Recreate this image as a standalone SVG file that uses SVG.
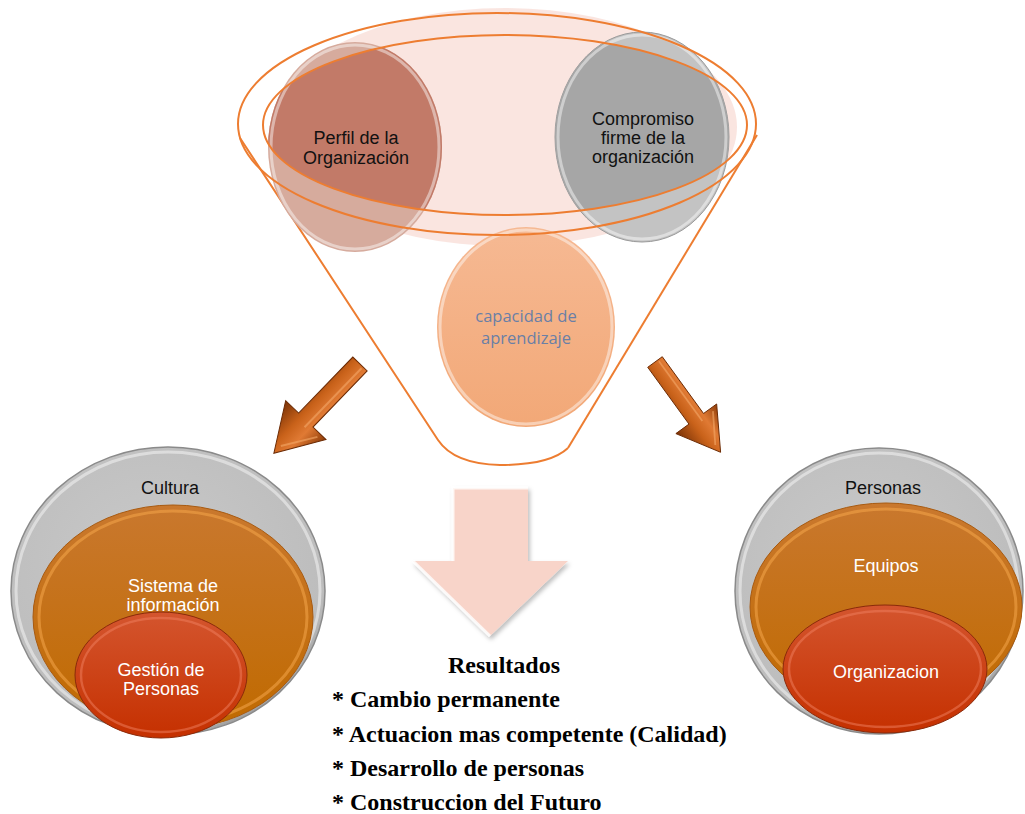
<svg xmlns="http://www.w3.org/2000/svg" width="1025" height="814" viewBox="0 0 1025 814">
  <defs>
    <style>
      .lbl { font-family: "Liberation Sans", Arial, sans-serif; font-size: 18px; text-anchor: middle; }
      .dark { fill: #111111; }
      .light { fill: #ffffff; }
      .res { font-family: "Liberation Serif", "Times New Roman", serif; font-weight: bold; font-size: 24px; fill: #000000; }
      .rim { fill: none; stroke: #ffffff; stroke-opacity: 0.45; stroke-width: 3; }
      .funnel { fill: none; stroke: #ed7d31; stroke-width: 2; }
    </style>
    <radialGradient id="gGray" cx="0.45" cy="0.4" r="0.65">
      <stop offset="0" stop-color="#c9c9c9"/>
      <stop offset="0.85" stop-color="#bdbdbd"/>
      <stop offset="1" stop-color="#8e8e8e"/>
    </radialGradient>
    <linearGradient id="gOrange" x1="0" y1="0" x2="0" y2="1">
      <stop offset="0" stop-color="#c9782e"/>
      <stop offset="1" stop-color="#c06a00"/>
    </linearGradient>
    <linearGradient id="gRed" x1="0" y1="0" x2="0" y2="1">
      <stop offset="0" stop-color="#d4552e"/>
      <stop offset="1" stop-color="#c53000"/>
    </linearGradient>
    <linearGradient id="gArrow" x1="0" y1="0" x2="0" y2="1">
      <stop offset="0" stop-color="#8f3d08"/>
      <stop offset="0.35" stop-color="#e07a34"/>
      <stop offset="0.6" stop-color="#c9621a"/>
      <stop offset="1" stop-color="#7a3206"/>
    </linearGradient>
    <linearGradient id="gPeach" x1="0" y1="0" x2="0" y2="1">
      <stop offset="0" stop-color="#f6b993"/>
      <stop offset="1" stop-color="#f2a877"/>
    </linearGradient>
    <clipPath id="rimClip">
      <ellipse cx="505" cy="125" rx="242" ry="90"/>
    </clipPath>
    <filter id="soft" x="-10%" y="-10%" width="120%" height="130%">
      <feDropShadow dx="2" dy="3" stdDeviation="2" flood-color="#000000" flood-opacity="0.25"/>
    </filter>
    <!-- bevelled arrow, pointing along +x, tail at origin -->
    <g id="arrow3d">
      <polygon points="0,-10 78,-10 78,-28 124,0 78,28 78,10 0,10" fill="url(#gArrow)" stroke="#6b2a04" stroke-width="1"/>
      <polyline points="2,-4 84,-4" stroke="#f0a060" stroke-width="2" fill="none" opacity="0.7"/>
      <polyline points="82,-20 114,0" stroke="#f4a868" stroke-width="2" fill="none" opacity="0.6"/>
    </g>
  </defs>

  <rect width="1025" height="814" fill="#ffffff"/>

  <!-- funnel body -->
  <g id="funnel">
    <ellipse cx="505" cy="127" rx="232" ry="119" fill="#f9e1da" opacity="0.85"/>
    <path class="funnel" d="M 240 138 L 438 440 Q 454 464 500 465 Q 550 465 568 448"/>
    <path class="funnel" d="M 568 448 L 757 135" stroke="#f2a06a"/>
  </g>

  <!-- source circles inside the funnel -->
  <g id="perfil">
    <ellipse cx="355" cy="147" rx="87" ry="105" fill="#d6ab9d"/>
    <ellipse cx="355" cy="147" rx="87" ry="105" fill="#c27a68" clip-path="url(#rimClip)"/>
    <ellipse cx="355" cy="147" rx="84" ry="102" class="rim"/>
    <text class="lbl dark" x="356" y="144">Perfil de la</text>
    <text class="lbl dark" x="356" y="164">Organización</text>
  </g>

  <g id="compromiso">
    <ellipse cx="642" cy="137" rx="87" ry="105" fill="#c3c3c3" stroke="#9a9a9a" stroke-width="1"/>
    <ellipse cx="642" cy="137" rx="87" ry="105" fill="#a6a6a6" clip-path="url(#rimClip)"/>
    <ellipse cx="642" cy="137" rx="84" ry="102" class="rim"/>
    <text class="lbl dark" x="643" y="125">Compromiso</text>
    <text class="lbl dark" x="643" y="144">firme de la</text>
    <text class="lbl dark" x="643" y="163">organización</text>
  </g>

  <g id="capacidad">
    <ellipse cx="526" cy="327" rx="89" ry="100" fill="url(#gPeach)"/>
    <ellipse cx="526" cy="327" rx="86" ry="97" class="rim" stroke-opacity="0.6"/>
    <text x="526" y="322" text-anchor="middle" font-family="'Open Sans', 'Liberation Sans', sans-serif" font-size="16.5" fill="#6a7fa6">capacidad de</text>
    <text x="526" y="344" text-anchor="middle" font-family="'Open Sans', 'Liberation Sans', sans-serif" font-size="16.5" fill="#6a7fa6">aprendizaje</text>
  </g>

  <!-- funnel rim drawn over the circles -->
  <g id="funnel-rim">
    <ellipse class="funnel" cx="505" cy="125" rx="242" ry="90"/>
    <ellipse class="funnel" cx="497" cy="124" rx="259" ry="111"/>
  </g>

  <!-- connectors -->
  <g id="connectors">
    <use href="#arrow3d" transform="translate(360,364) rotate(134)"/>
    <use href="#arrow3d" transform="translate(655,362) rotate(54) scale(0.9)"/>
    <g id="down-arrow" filter="url(#soft)">
      <polygon points="453,488 528,488 528,561 568,561 490,636 413,561 453,561" fill="#f8d4c9"/>
      <polyline points="453,561 453,488 528,488" fill="none" stroke="#ffffff" stroke-width="3" opacity="0.8"/>
      <polyline points="413,561 490,636" fill="none" stroke="#ffffff" stroke-width="3" opacity="0.8"/>
    </g>
  </g>

  <!-- left result group -->
  <g id="cultura">
    <ellipse cx="168" cy="591" rx="157" ry="144" fill="url(#gGray)" stroke="#8a8a8a" stroke-width="1.5"/>
    <ellipse cx="168" cy="591" rx="152" ry="139" class="rim"/>
    <text class="lbl dark" x="170" y="494">Cultura</text>
  </g>
  <g id="sistema">
    <ellipse cx="173" cy="617" rx="140" ry="112" fill="url(#gOrange)" stroke="#a85a10" stroke-width="1"/>
    <ellipse cx="173" cy="617" rx="134" ry="106" fill="none" stroke="#f4a54a" stroke-width="3" opacity="0.55"/>
    <text class="lbl light" x="173" y="592">Sistema de</text>
    <text class="lbl light" x="173" y="611">información</text>
  </g>
  <g id="gestion">
    <ellipse cx="161" cy="675" rx="86" ry="63" fill="url(#gRed)" stroke="#8a2a0a" stroke-width="1"/>
    <ellipse cx="161" cy="675" rx="80" ry="57" fill="none" stroke="#f08060" stroke-width="2.5" opacity="0.5"/>
    <text class="lbl light" x="161" y="676">Gestión de</text>
    <text class="lbl light" x="161" y="695">Personas</text>
  </g>

  <!-- right result group -->
  <g id="personas">
    <ellipse cx="879" cy="591" rx="144" ry="143" fill="url(#gGray)" stroke="#8a8a8a" stroke-width="1.5"/>
    <ellipse cx="879" cy="591" rx="139" ry="138" class="rim"/>
    <text class="lbl dark" x="883" y="494">Personas</text>
  </g>
  <g id="equipos">
    <ellipse cx="886" cy="607" rx="136" ry="104" fill="url(#gOrange)" stroke="#a85a10" stroke-width="1"/>
    <ellipse cx="886" cy="607" rx="130" ry="98" fill="none" stroke="#f4a54a" stroke-width="3" opacity="0.55"/>
    <text class="lbl light" x="886" y="572">Equipos</text>
  </g>
  <g id="organizacion">
    <ellipse cx="885" cy="669" rx="102" ry="64" fill="url(#gRed)" stroke="#8a2a0a" stroke-width="1"/>
    <ellipse cx="885" cy="669" rx="96" ry="58" fill="none" stroke="#f08060" stroke-width="2.5" opacity="0.5"/>
    <text class="lbl light" x="886" y="678">Organizacion</text>
  </g>

  <!-- results list -->
  <g id="resultados">
    <text class="res" x="504" y="673" text-anchor="middle">Resultados</text>
    <text class="res" x="332" y="707">* Cambio permanente</text>
    <text class="res" x="332" y="742">* Actuacion mas competente (Calidad)</text>
    <text class="res" x="332" y="776">* Desarrollo de personas</text>
    <text class="res" x="332" y="810">* Construccion del Futuro</text>
  </g>
</svg>
